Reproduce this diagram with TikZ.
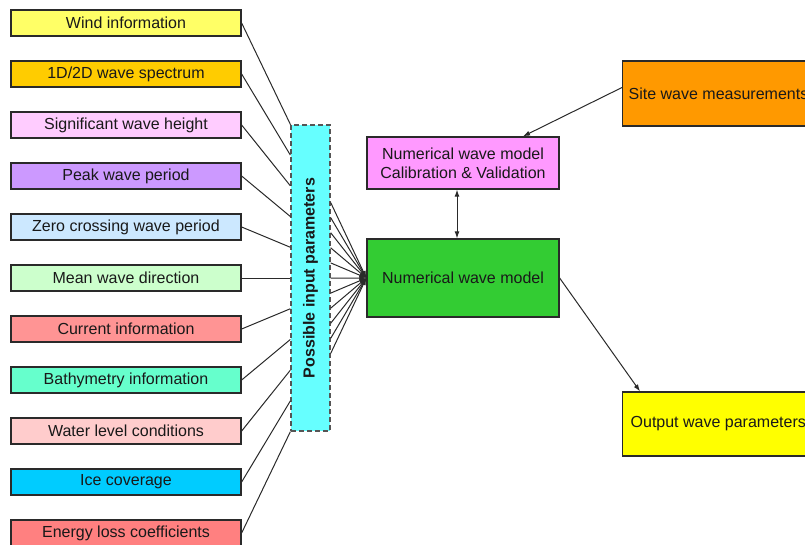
\documentclass[tikz,border=0pt]{standalone}
\usepackage{fontspec}
\setmainfont{Liberation Sans}
\usetikzlibrary{arrows.meta,calc}

\definecolor{cWind}{HTML}{FFFF66}
\definecolor{cSpec}{HTML}{FFCC00}
\definecolor{cHs}{HTML}{FFCCFF}
\definecolor{cTp}{HTML}{CC99FF}
\definecolor{cTz}{HTML}{CCE8FF}
\definecolor{cDir}{HTML}{CCFFCC}
\definecolor{cCur}{HTML}{FF9494}
\definecolor{cBath}{HTML}{66FFCC}
\definecolor{cWl}{HTML}{FFCCCC}
\definecolor{cIce}{HTML}{00CCFF}
\definecolor{cLoss}{HTML}{FF8080}
\definecolor{cParam}{HTML}{66FFFF}
\definecolor{cCal}{HTML}{FF99FF}
\definecolor{cModel}{HTML}{33CC33}
\definecolor{cSite}{HTML}{FF9900}
\definecolor{cOut}{HTML}{FFFF00}
\definecolor{edge}{HTML}{2A2A2A}

\begin{document}
\begin{tikzpicture}[x=1pt,y=-1pt,
  every node/.style={font=\fontsize{16}{19}\selectfont, text=black!90},
  box/.style={draw=edge, line width=1.3pt, align=center},
  inbox/.style={box, minimum width=230pt, minimum height=26pt, inner sep=0pt},
  parambox/.style={draw=edge!80, line width=1.3pt, dashed, dash pattern=on 5pt off 3pt,
                   fill=cParam, minimum width=39pt, minimum height=306pt, inner sep=0pt},
  modelbox/.style={box, minimum width=192pt, inner sep=0pt},
  sidebox/.style={box, anchor=west, inner xsep=6pt, inner ysep=0pt},
  link/.style={draw=edge, line width=1pt},
  arr/.style={link, -{Latex[length=7pt,width=5pt]}},
  dblarr/.style={link, {Latex[length=7pt,width=5pt]}-{Latex[length=7pt,width=5pt]}}
]
\useasboundingbox (0,0) rectangle (805,544);
\clip (0,0) rectangle (805,544);

% input parameter boxes
\foreach \i/\col/\txt in {
  0/cWind/Wind information,
  1/cSpec/1D\slash 2D wave spectrum,
  2/cHs/Significant wave height,
  3/cTp/Peak wave period,
  4/cTz/Zero crossing wave period,
  5/cDir/Mean wave direction,
  6/cCur/Current information,
  7/cBath/Bathymetry information,
  8/cWl/Water level conditions,
  9/cIce/Ice coverage,
  10/cLoss/Energy loss coefficients}
  \node[inbox, fill=\col] (in\i) at (126, 23+51*\i) {\txt};

% collector of possible inputs
\node[parambox] (params) at (310.5,278) {};
\node[rotate=90, font=\fontsize{16}{19}\selectfont\bfseries] (paramlabel) at (params.center) {Possible input parameters};

% model boxes
\node[modelbox, fill=cCal, minimum height=52pt] (cal) at (463,163)
  {Numerical wave model\\Calibration \& Validation};
\node[modelbox, fill=cModel, minimum height=78pt] (model) at (463,278)
  {Numerical wave model};
\node[sidebox, fill=cSite, minimum height=65pt] (site) at (622,93.5)
  {Site wave measurements};
\node[sidebox, fill=cOut, minimum height=64pt, inner xsep=8pt] (out) at (622,424)
  {Output wave parameters};

% inputs into the collector
\foreach \i in {0,...,10}
  \draw[link] (in\i.east) -- ($(params.north west)!\i/10!(params.south west)$);

% collector into the model
\foreach \i in {0,...,10}
  \draw[arr] ($(params.east)+(0,-75.5+15.1*\i)$) -- (model.west);

% model links
\draw[dblarr] ($(cal.south)+(-6,0)$) -- ($(model.north)+(-6,0)$);
\draw[arr] ($(site.west)+(0,-6)$) -- ($(cal.north)+(60,0)$);
\draw[arr] (model.east) -- ($(out.north west)+(18,0)$);
\end{tikzpicture}
\end{document}
